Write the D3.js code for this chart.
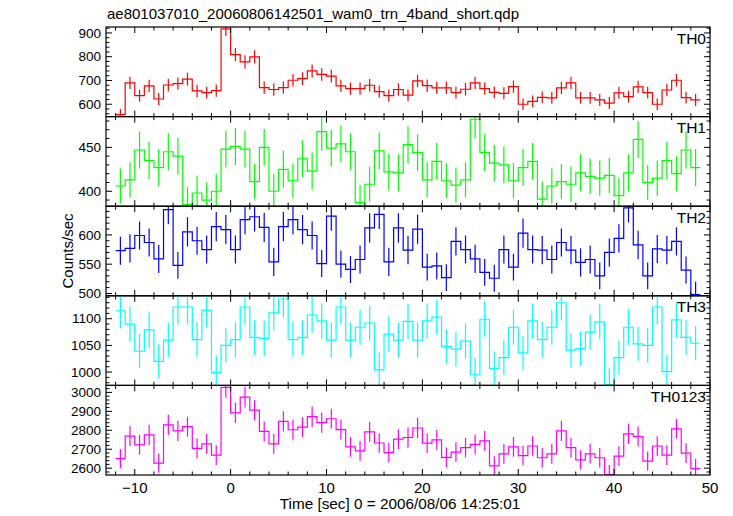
<!DOCTYPE html>
<html><head><meta charset="utf-8">
<script src="https://cdn.jsdelivr.net/npm/d3@7"></script>
<style>body{margin:0;background:#fff}svg{display:block}</style></head>
<body><svg id="c" width="733" height="516"></svg>
<script>
const titleText = "ae801037010_20060806142501_wam0_trn_4band_short.qdp";
const xLabelText = "Time [sec] 0 = 2006/08/06 14:25:01";
const yLabelText = "Counts/sec";
const bandNames = ["TH0", "TH1", "TH2", "TH3", "TH0123"];
const bandColors = ["#ff0000", "#00ff00", "#0000ff", "#00ffff", "#ff00ff"];

// bin centres (s), 1-s bins
const binCenters = d3.range(-11.5, 49, 1);
const binHalfWidth = 0.5;

const th0 = [556,690,636,677,622,681,687,706,656,649,657,917,809,778,799,670,662,670,701,708,740,726,718,677,666,666,680,653,636,662,638,
  698,678,669,669,649,663,690,666,650,646,674,600,612,629,627,669,690,627,627,618,605,648,632,673,649,600,660,701,628,618];
const th0Err = [24,26,25,26,25,26,26,27,26,25,26,30,28,28,28,26,26,26,26,27,27,27,27,26,26,26,26,26,25,26,25,
  26,26,26,26,25,26,26,26,25,25,26,24,25,25,25,26,26,25,25,25,25,25,25,26,25,24,26,26,25,25];

const th1 = [406,413,447,435,427,445,440,385,398,390,400,448,451,448,411,450,400,425,412,437,423,468,449,454,445,387,408,446,422,421,453,
  444,413,434,412,407,413,482,444,432,430,412,427,434,391,406,411,408,421,417,415,418,395,421,459,410,415,435,420,447,427];
const th1Err = [20,20,21,21,21,21,21,20,20,20,20,21,21,21,20,21,20,21,20,21,21,22,21,21,21,20,20,21,21,21,21,
  21,20,21,20,20,20,22,21,21,21,20,21,21,20,20,20,20,21,20,20,20,20,21,21,20,20,21,20,21,21];

const th2 = [573,577,599,587,559,643,548,605,590,575,614,609,575,626,631,613,554,614,626,609,599,551,632,550,541,558,612,635,554,612,574,
  610,545,547,527,589,575,559,536,526,575,545,603,575,574,558,587,574,553,558,530,570,594,646,583,530,576,574,589,540,498];
const th2Err = [24,24,24,24,24,25,23,25,24,24,25,25,24,25,25,25,24,25,25,25,24,23,25,23,23,24,25,25,24,25,24,
  25,23,23,23,24,24,24,23,23,24,23,25,24,24,24,24,24,24,24,23,24,24,25,24,23,24,24,24,23,22];

const th3 = [1115,1090,1039,1079,1020,1060,1122,1122,1061,1116,999,1050,1061,1122,1065,1063,1111,1137,1061,1065,1107,1096,1060,1122,1060,1084,1092,1004,1071,1060,1095,
  1060,1096,1103,1048,1043,1058,995,1099,1007,1027,1084,1036,1096,1061,1084,1130,1041,1044,1075,1094,976,1027,1084,1053,1050,1122,1001,1098,1065,1054];
const th3Err = [33,33,32,33,32,33,33,33,33,33,32,32,33,33,33,33,33,34,33,33,33,33,33,33,33,33,33,32,33,33,33,
  33,33,33,32,32,33,32,33,32,32,33,32,33,33,33,34,32,32,33,33,31,32,33,32,32,33,32,33,33,32];

const th0123 = [2650,2769,2723,2776,2627,2829,2797,2819,2705,2728,2669,3027,2892,2975,2906,2794,2728,2847,2803,2817,2872,2840,2861,2804,2712,2691,2792,2733,2682,2753,2762,
  2812,2732,2749,2657,2685,2708,2726,2744,2612,2676,2712,2666,2717,2655,2675,2797,2708,2644,2676,2655,2566,2664,2781,2767,2637,2717,2669,2808,2680,2598];
const th0123Err = [51,53,52,53,51,53,53,53,52,52,52,55,54,55,54,53,52,53,53,53,54,53,53,53,52,52,53,52,52,52,53,
  53,52,52,52,52,52,52,52,51,52,52,52,52,52,52,53,52,51,52,52,51,52,53,53,51,52,52,53,52,51];

const seriesValues = [th0, th1, th2, th3, th0123];
const seriesErrors = [th0Err, th1Err, th2Err, th3Err, th0123Err];

// axis ranges and ticks
const xDomain = [-13, 50];
const xMajorTicks = [-10, 0, 10, 20, 30, 40, 50];
const xMinorStep = 2;
const yDomains = [[548, 925], [383, 485], [496, 649], [975, 1143], [2564, 3037]];
const yMajorSteps = [100, 50, 50, 50, 100];
const yMinorSteps = [20, 10, 10, 10, 20];

// layout
const L = 106, R = 710, T = 27, B = 475;
const nP = bandNames.length;
const pH = (B - T) / nP;
const FONT = "'Liberation Sans', Arial, Helvetica, sans-serif";

const svg = d3.select("#c");
svg.append("rect").attr("width", 733).attr("height", 516).attr("fill", "#fff");

const x = d3.scaleLinear().domain(xDomain).range([L, R]);

svg.append("text").attr("x", 107).attr("y", 19).attr("font-family", FONT)
  .attr("font-size", 15).attr("fill", "#000").text(titleText);

const defs = svg.append("defs");

const xMinorTicks = d3.range(-12, 50.001, xMinorStep);

for (let p = 0; p < nP; p++) {
  const top = T + p * pH, bot = top + pH;
  const y = d3.scaleLinear().domain(yDomains[p]).range([bot, top]);
  const vals = seriesValues[p], errs = seriesErrors[p];
  const col = bandColors[p];

  defs.append("clipPath").attr("id", "clip" + p)
    .append("rect").attr("x", L).attr("y", top).attr("width", R - L).attr("height", pH);

  const g = svg.append("g").attr("clip-path", `url(#clip${p})`);

  // step histogram
  const pts = [];
  binCenters.forEach((c, i) => {
    pts.push([c - binHalfWidth, vals[i]]);
    pts.push([c + binHalfWidth, vals[i]]);
  });
  const line = d3.line().x(d => x(d[0])).y(d => y(d[1]));
  g.append("path").attr("d", line(pts)).attr("fill", "none")
    .attr("stroke", col).attr("stroke-width", 1.2).attr("stroke-linejoin", "miter");

  // error bars
  g.selectAll("line.err").data(binCenters).join("line")
    .attr("class", "err")
    .attr("x1", d => x(d)).attr("x2", d => x(d))
    .attr("y1", (d, i) => y(vals[i] - errs[i]))
    .attr("y2", (d, i) => y(vals[i] + errs[i]))
    .attr("stroke", col).attr("stroke-width", 1.2);

  // frame
  svg.append("rect").attr("x", L).attr("y", top).attr("width", R - L).attr("height", pH)
    .attr("fill", "none").attr("stroke", "#000").attr("stroke-width", 1.2);

  const tg = svg.append("g").attr("stroke", "#000").attr("stroke-width", 1);
  // x ticks top & bottom
  xMinorTicks.forEach(t => {
    const major = xMajorTicks.includes(t);
    const len = major ? 6 : 3.5;
    const px = x(t);
    tg.append("line").attr("x1", px).attr("x2", px).attr("y1", bot).attr("y2", bot - len);
    tg.append("line").attr("x1", px).attr("x2", px).attr("y1", top).attr("y2", top + len);
  });
  // y ticks left & right
  const [d0, d1] = yDomains[p];
  const minor = yMinorSteps[p], majorS = yMajorSteps[p];
  const yMin = d3.range(Math.ceil(d0 / minor) * minor, d1 + 0.001, minor);
  yMin.forEach(v => {
    const major = Math.abs(v / majorS - Math.round(v / majorS)) < 1e-6;
    const len = major ? 6 : 3.5;
    const py = y(v);
    tg.append("line").attr("x1", L).attr("x2", L + len).attr("y1", py).attr("y2", py);
    tg.append("line").attr("x1", R).attr("x2", R - len).attr("y1", py).attr("y2", py);
  });
  const yMaj = d3.range(Math.ceil(d0 / majorS) * majorS, d1 + 0.001, majorS);
  svg.append("g").selectAll("text").data(yMaj).join("text")
    .attr("x", 101).attr("y", d => y(d)).attr("dy", "0.35em")
    .attr("text-anchor", "end").attr("font-family", FONT).attr("font-size", 13.5)
    .attr("fill", "#000").text(d => d);

  svg.append("text").attr("x", 706).attr("y", top + 16.5)
    .attr("text-anchor", "end").attr("font-family", FONT).attr("font-size", 15.5)
    .attr("fill", "#000").text(bandNames[p]);
}

// bottom x labels
svg.append("g").selectAll("text").data(xMajorTicks).join("text")
  .attr("x", d => x(d)).attr("y", B + 18)
  .attr("text-anchor", "middle").attr("font-family", FONT).attr("font-size", 15)
  .attr("fill", "#000").text(d => d < 0 ? "\u2212" + Math.abs(d) : d);

svg.append("text").attr("x", 400).attr("y", 509)
  .attr("text-anchor", "middle").attr("font-family", FONT).attr("font-size", 15.3)
  .attr("fill", "#000").text(xLabelText);

svg.append("text").attr("transform", `translate(73, ${(T + B) / 2}) rotate(-90)`)
  .attr("text-anchor", "middle").attr("font-family", FONT).attr("font-size", 15)
  .attr("fill", "#000").text(yLabelText);
</script>
</body></html>
